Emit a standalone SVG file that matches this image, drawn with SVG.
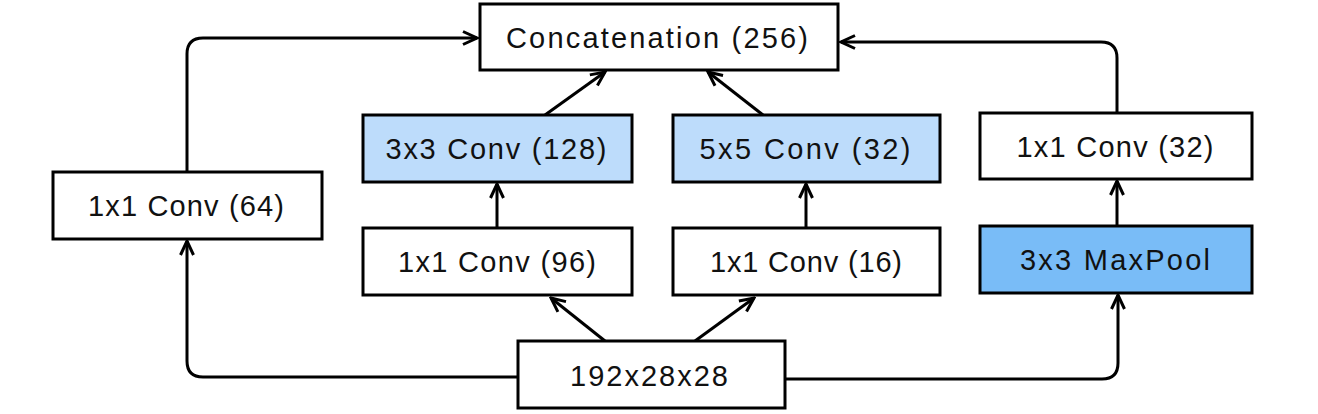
<svg xmlns="http://www.w3.org/2000/svg" width="1318" height="414" viewBox="0 0 1318 414">
<style>
.box{stroke:#000;stroke-width:3;fill:#fff}
.l1{fill:#bddcfb}
.l2{fill:#79bcf7}
.t{font-family:"Liberation Sans",Arial,sans-serif;font-size:29px;fill:#111;text-anchor:middle}
.c{fill:none;stroke:#000;stroke-width:3;marker-end:url(#ah)}
</style>
<defs>
<marker id="ah" viewBox="-16 -9 18 18" refX="0" refY="0" markerWidth="18" markerHeight="18" markerUnits="userSpaceOnUse" orient="auto">
<path d="M-14,-6.5 L0,0 L-14,6.5" fill="none" stroke="#000" stroke-width="3" stroke-linejoin="miter"/>
</marker>
</defs>
<rect width="1318" height="414" fill="#fff"/>
<g id="connectors">
<path class="c" d="M518,377 H203 Q187,377 187,361 V241"/>
<path class="c" d="M187,172 V54 Q187,38 203,38 H477"/>
<path class="c" d="M605,341 L551,298"/>
<path class="c" d="M695,341 L754,298"/>
<path class="c" d="M497,228 V184"/>
<path class="c" d="M806,228 V184"/>
<path class="c" d="M545,115 L605,72"/>
<path class="c" d="M763,115 L708,72"/>
<path class="c" d="M785,379 H1102 Q1118,379 1118,363 V295"/>
<path class="c" d="M1117,225 V181"/>
<path class="c" d="M1117,113 V58 Q1117,42 1101,42 H841"/>
</g>
<g id="concat">
<rect class="box" x="480" y="4" width="358" height="66"/>
<text class="t" x="657" y="48" textLength="302" lengthAdjust="spacing">Concatenation (256)</text>
</g>
<g id="conv64">
<rect class="box" x="53" y="172" width="269" height="67"/>
<text class="t" x="186" y="216" textLength="196" lengthAdjust="spacing">1x1 Conv (64)</text>
</g>
<g id="conv128">
<rect class="box l1" x="363" y="115" width="269" height="67"/>
<text class="t" x="496" y="159" textLength="221" lengthAdjust="spacing">3x3 Conv (128)</text>
</g>
<g id="conv5x5">
<rect class="box l1" x="673" y="115" width="267" height="67"/>
<text class="t" x="805" y="159" textLength="211" lengthAdjust="spacing">5x5 Conv (32)</text>
</g>
<g id="conv96">
<rect class="box" x="363" y="228" width="269" height="67"/>
<text class="t" x="497" y="272" textLength="198" lengthAdjust="spacing">1x1 Conv (96)</text>
</g>
<g id="conv16">
<rect class="box" x="673" y="228" width="267" height="67"/>
<text class="t" x="806" y="272" textLength="192" lengthAdjust="spacing">1x1 Conv (16)</text>
</g>
<g id="conv32">
<rect class="box" x="980" y="113" width="272" height="66"/>
<text class="t" x="1115" y="157" textLength="197" lengthAdjust="spacing">1x1 Conv (32)</text>
</g>
<g id="maxpool">
<rect class="box l2" x="980" y="226" width="272" height="67"/>
<text class="t" x="1115" y="270" textLength="190" lengthAdjust="spacing">3x3 MaxPool</text>
</g>
<g id="input">
<rect class="box" x="518" y="341" width="267" height="67"/>
<text class="t" x="649" y="386" textLength="158" lengthAdjust="spacing">192x28x28</text>
</g>
</svg>
